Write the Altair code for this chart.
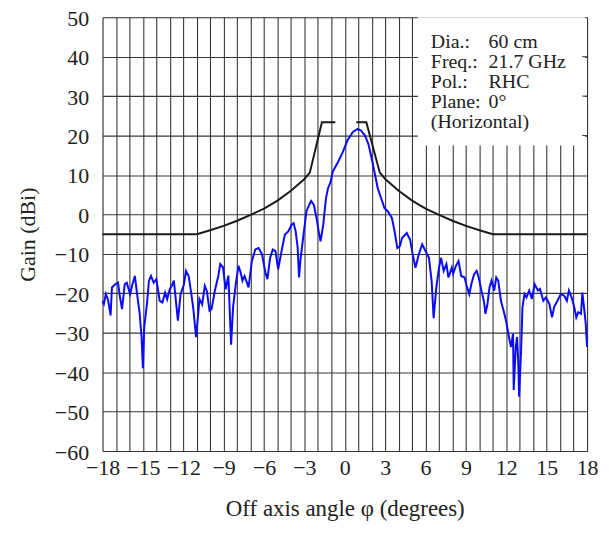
import altair as alt
import pandas as pd

# ---- measured radiation pattern (blue) ----
pattern_phi = [
    -18.0, -17.9, -17.75, -17.6, -17.4, -17.3, -17.05, -16.85, -16.7, -16.55,
    -16.35, -16.2, -15.95, -15.8, -15.6, -15.4, -15.25, -15.1, -15.0, -14.9,
    -14.7, -14.55, -14.4, -14.2, -14.0, -13.75, -13.55, -13.35, -13.2, -13.0,
    -12.85, -12.7, -12.6, -12.4, -12.2, -11.95, -11.8, -11.6, -11.4, -11.25,
    -11.05, -10.9, -10.8, -10.6, -10.4, -10.25, -10.05, -9.9, -9.65, -9.4,
    -9.25, -9.05, -8.85, -8.65, -8.45, -8.3, -8.1, -7.9, -7.75, -7.6,
    -7.45, -7.15, -6.9, -6.65, -6.4, -6.15, -5.9, -5.75, -5.55, -5.35,
    -5.15, -4.95, -4.7, -4.45, -4.2, -3.95, -3.8, -3.65, -3.5, -3.4,
    -3.3, -3.1, -2.85, -2.65, -2.5, -2.3, -2.1, -1.9, -1.8, -1.6,
    -1.4, -1.25, -1.05, -0.9, -0.5, -0.15, 0.2, 0.6, 0.95, 1.2,
    1.5, 1.75, 2.0, 2.25, 2.45, 2.7, 2.95, 3.2, 3.5, 3.7,
    3.9, 4.1, 4.25, 4.6, 4.85, 5.0, 5.25, 5.5, 5.75, 6.0,
    6.25, 6.45, 6.6, 6.8, 7.0, 7.15, 7.35, 7.55, 7.7, 7.95,
    8.05, 8.25, 8.45, 8.65, 8.9, 9.05, 9.25, 9.4, 9.6, 9.8,
    9.95, 10.15, 10.35, 10.45, 10.6, 10.75, 10.9, 11.1, 11.25, 11.4,
    11.6, 11.8, 12.0, 12.2, 12.35, 12.5, 12.55, 12.7, 12.8, 12.9,
    12.95, 13.1, 13.2, 13.35, 13.5, 13.7, 13.9, 14.1, 14.35, 14.5,
    14.75, 14.95, 15.2, 15.4, 15.55, 15.8, 16.05, 16.3, 16.5, 16.65,
    16.85, 17.05, 17.2, 17.35, 17.55, 17.65, 17.8, 17.9, 18.0,
]
pattern_gain = [
    -22.0, -22.7, -20.2, -21.5, -25.6, -18.5, -17.7, -17.3, -21.0, -24.0,
    -17.7, -17.3, -20.2, -18.0, -15.6, -21.0, -24.8, -31.0, -39.0, -28.6,
    -22.7, -16.8, -15.6, -17.3, -16.4, -21.9, -22.3, -19.8, -21.5, -18.9,
    -18.1, -16.8, -20.2, -26.9, -20.2, -17.7, -14.3, -15.6, -20.2, -24.0,
    -31.1, -25.6, -21.4, -22.8, -18.1, -19.4, -24.4, -24.0, -19.3, -15.6,
    -12.6, -13.4, -19.0, -15.5, -33.0, -23.5, -17.7, -13.0, -14.6, -16.8,
    -15.6, -18.5, -11.8, -8.9, -8.5, -10.1, -14.7, -16.4, -11.0, -8.9,
    -9.3, -13.9, -9.3, -5.1, -4.3, -2.6, -2.2, -4.3, -8.5, -16.0,
    -11.8, -6.0, 0.75, 2.4, 3.4, 2.4, -0.9, -5.1, -6.8, -2.6,
    4.1, 6.6, 8.3, 10.8, 13.3, 15.8, 18.8, 20.9, 21.7, 21.3,
    20.0, 17.9, 14.1, 10.0, 6.6, 4.1, 1.6, 0.75, -0.9, -4.3,
    -8.5, -8.0, -6.0, -4.7, -6.4, -9.3, -13.5, -10.1, -7.6, -9.3,
    -11.0, -16.8, -26.3, -18.5, -13.5, -11.0, -14.3, -12.6, -16.0, -13.5,
    -15.0, -13.1, -11.8, -15.6, -16.0, -18.1, -20.2, -17.7, -15.2, -14.3,
    -16.0, -19.3, -22.3, -25.2, -22.7, -18.5, -16.8, -19.3, -16.0, -16.8,
    -21.9, -24.4, -27.3, -31.1, -33.6, -30.2, -44.5, -33.6, -31.1, -38.6,
    -46.2, -34.4, -23.5, -20.2, -21.0, -19.3, -21.4, -17.7, -19.3, -18.9,
    -21.9, -21.0, -22.7, -26.1, -23.5, -21.9, -20.2, -20.6, -21.9, -19.3,
    -21.0, -23.5, -26.1, -24.8, -25.2, -19.8, -24.4, -27.7, -33.6,
]

# ---- envelope mask (black) ----
mask_phi = [-18, -11, -10, -9, -8, -7, -6, -5, -4, -3, -2.6, -1.7, -0.7,
            0.85, 1.6, 2.6, 3, 4, 5, 6, 7, 8, 9, 10, 11, 18]
mask_gain = [-5, -5, -4, -2.9, -1.6, -0.1, 1.5, 3.5, 6, 9, 10.6, 23.4, 23.4,
             23.4, 23.4, 10.6, 9, 6, 3.5, 1.5, -0.1, -1.6, -2.9, -4, -5, -5]
mask_seg = ["L"] * 13 + ["R"] * 13

x_ticks = list(range(-18, 19, 1))
y_ticks = list(range(-60, 51, 10))

legend_keys = ["Dia.:", "Freq.:", "Pol.:", "Plane:", "(Horizontal)"]
legend_vals = ["60 cm", "21.7 GHz", "RHC", "0°", ""]

FONT = "Liberation Serif"
W, H = 487, 436
GRID = "#383838"

pat_df = pd.DataFrame({"phi": pattern_phi, "gain": pattern_gain,
                       "ord": list(range(len(pattern_phi)))})
mask_df = pd.DataFrame({"phi": mask_phi, "gain": mask_gain, "seg": mask_seg,
                        "ord": list(range(len(mask_phi)))})

xs = alt.Scale(domain=[-18, 18], nice=False, zero=False)
ys = alt.Scale(domain=[-60, 50], nice=False, zero=False)

x_axis = alt.Axis(
    values=x_ticks,
    labelExpr="datum.value % 3 === 0 ? datum.label : ''",
    grid=True, gridColor=GRID, gridWidth=1.1, gridOpacity=1,
    ticks=False, domain=False,
    labelFont=FONT, labelFontSize=22, labelColor="#222",
    labelPadding=7, labelFlush=False, labelOverlap=False,
    title="Off axis angle  φ (degrees)", titleFont=FONT, titleFontSize=23,
    titleFontWeight="normal", titleColor="#222", titlePadding=19,
)
y_axis = alt.Axis(
    values=y_ticks,
    grid=True, gridColor=GRID, gridWidth=1.1, gridOpacity=1,
    ticks=False, domain=False,
    labelFont=FONT, labelFontSize=22, labelColor="#222",
    labelPadding=14, labelOffset=1, labelFlush=False, labelOverlap=False,
    title="Gain (dBi)", titleFont=FONT, titleFontSize=22,
    titleFontWeight="normal", titleColor="#222", titlePadding=15,
)

X = alt.X("phi:Q", scale=xs, axis=x_axis)
Y = alt.Y("gain:Q", scale=ys, axis=y_axis)

mask = alt.Chart(mask_df).mark_line(color="#1a1a1a", strokeWidth=2).encode(
    x=X, y=Y, detail="seg:N", order="ord:Q",
)

pattern = alt.Chart(pat_df).mark_line(color="#0a0aff", strokeWidth=2).encode(
    x=X, y=Y, order="ord:Q",
)

one = alt.Data(values=[{"k": 1}])

box = alt.Chart(one).mark_rect(fill="white").encode(
    x=alt.value(317), x2=alt.value(485), y=alt.value(0), y2=alt.value(129)
)

right_ticks = alt.Chart(pd.DataFrame({"v": [40, 30, 20]})).mark_rule(
    color=GRID, strokeWidth=1
).encode(
    y=alt.Y("v:Q", scale=ys, axis=y_axis), x=alt.value(482), x2=alt.value(487)
)

keys_txt = alt.Chart(one).mark_text(
    text=legend_keys, font=FONT, fontSize=20, lineHeight=20,
    align="left", baseline="alphabetic", color="#222"
).encode(x=alt.value(330), y=alt.value(31))

vals_txt = alt.Chart(one).mark_text(
    text=legend_vals, font=FONT, fontSize=20, lineHeight=20,
    align="left", baseline="alphabetic", color="#222"
).encode(x=alt.value(388), y=alt.value(31))

chart = alt.layer(mask, pattern, box, right_ticks, keys_txt, vals_txt).properties(
    width=W, height=H,
    autosize="none",
    padding={"left": 95, "top": 8, "right": 14, "bottom": 73},
).configure_view(
    stroke="#111", strokeWidth=1.6
).configure(background="white")

chart.save("out.html", embed_options={"renderer": "svg", "actions": False})
